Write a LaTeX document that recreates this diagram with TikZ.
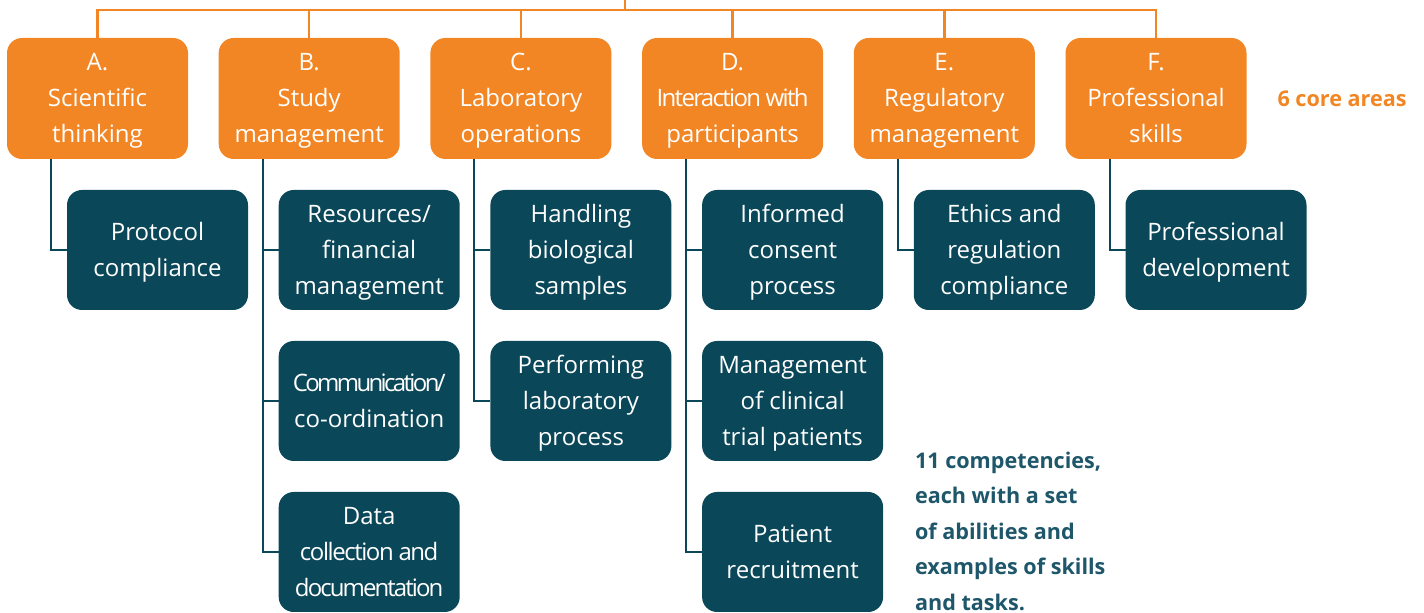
\documentclass[tikz,border=0pt]{standalone}
\usepackage{fontspec}
\setmainfont{Open Sans}
\usepackage{tikz}
\usetikzlibrary{positioning}
\usepackage{xcolor}
\definecolor{coreorange}{RGB}{242,134,36}
\definecolor{compteal}{RGB}{10,71,88}
\definecolor{noteteal}{RGB}{30,86,106}
\tikzstyle{area} = [rectangle, rounded corners=7.5pt, minimum width=90.5pt, minimum height=60.5pt, inner sep=0pt, outer sep=0pt, text centered, align=center, fill=coreorange, text=white, font=\fontsize{12}{18}\selectfont, execute at end node={\rule[-3pt]{0pt}{3pt}}]
\tikzstyle{comp} = [area, minimum height=60pt, fill=compteal]
\tikzstyle{busline} = [line width=1.2pt, color=coreorange]
\tikzstyle{link} = [line width=1pt, color=compteal]
\tikzstyle{sidenote} = [inner sep=0pt, outer sep=0pt, font=\bfseries\fontsize{10.8}{17.75}\selectfont]
\newcommand{\tightfont}[1]{\addfontfeatures{LetterSpace=#1}}
\newcommand{\topline}{\rule{0pt}{11.5pt}}

\begin{document}
\begin{tikzpicture}[node distance=15.35pt]
\useasboundingbox (0,0) rectangle (712pt,-306.5pt);
% Core areas - orange row
\node (a) [area] at (48.75pt,-49.25pt) {\topline A.\\Scientific\\thinking};
\node (b) [area, right=of a] {\topline B.\\Study\\management};
\node (c) [area, right=of b] {\topline C.\\Laboratory\\operations};
\node (d) [area, right=of c] {\topline D.\\{\tightfont{-7}Interaction with}\\participants};
\node (e) [area, right=of d] {\topline E.\\Regulatory\\management};
\node (f) [area, right=of e] {\topline F.\\Professional\\skills};

% Competencies - teal boxes under each area
\node (a1) [comp, below right=15.5pt and -60.5pt of a] {\topline Protocol\\compliance};
\node (b1) [comp, below right=15.5pt and -60.5pt of b] {\topline Resources/\\financial\\management};
\node (b2) [comp, below=15.5pt of b1] {\topline{\tightfont{-11}Communication/}\\co-ordination};
\node (b3) [comp, below=15.5pt of b2] {\topline Data\\{\tightfont{-6}collection and}\\{\tightfont{-8}documentation}};
\node (c1) [comp, below right=15.5pt and -60.5pt of c] {\topline Handling\\biological\\samples};
\node (c2) [comp, below=15.5pt of c1] {\topline Performing\\laboratory\\process};
\node (d1) [comp, below right=15.5pt and -60.5pt of d] {\topline Informed\\consent\\process};
\node (d2) [comp, below=15.5pt of d1] {\topline Management\\of clinical\\trial patients};
\node (d3) [comp, below=15.5pt of d2] {\topline Patient\\recruitment};
\node (e1) [comp, below right=15.5pt and -60.5pt of e] {\topline Ethics and\\regulation\\compliance};
\node (f1) [comp, below right=15.5pt and -60.5pt of f] {\topline Professional\\development};

% Top bus
\draw[busline] (a.north) -- ++(0,14pt) coordinate (bus) -| (f.north);
\foreach \n in {b,c,d,e}
  \draw[busline] (\n.north) -- (\n.north |- bus);
\coordinate (root) at (312.5pt,0);
\draw[busline] (root) -- (root |- bus);

% Links area -> competencies
\draw[link] ([xshift=22pt]a.south west) |- (a1.west);
\draw[link] ([xshift=22pt]b.south west) |- (b3.west);
\draw[link] (b1.west) -- ++(-8pt,0);
\draw[link] (b2.west) -- ++(-8pt,0);
\draw[link] ([xshift=22pt]c.south west) |- (c2.west);
\draw[link] (c1.west) -- ++(-8pt,0);
\draw[link] ([xshift=22pt]d.south west) |- (d3.west);
\draw[link] (d1.west) -- ++(-8pt,0);
\draw[link] (d2.west) -- ++(-8pt,0);
\draw[link] ([xshift=22pt]e.south west) |- (e1.west);
\draw[link] ([xshift=22pt]f.south west) |- (f1.west);

% Side labels
\node (areas) [sidenote, right=15.5pt of f, text=coreorange] {6 core areas};
\node (note) [sidenote, anchor=north west, align=left, text=noteteal] at (457.5pt,-226pt) {11 competencies,\\each with a set\\of abilities and\\examples of skills\\and tasks.};
\end{tikzpicture}
\end{document}
